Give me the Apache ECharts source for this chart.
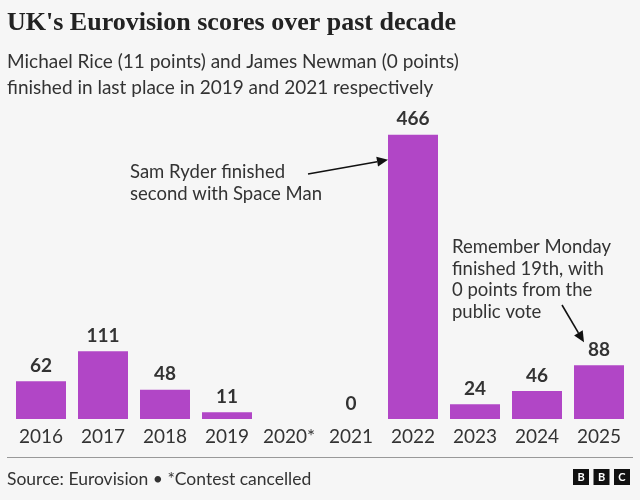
<!DOCTYPE html>
<html><head><meta charset="utf-8">
<script src="https://cdn.jsdelivr.net/npm/echarts@6/dist/echarts.min.js"></script>
<style>html,body{margin:0;padding:0;background:#f6f6f6}#c{width:640px;height:500px}</style>
</head><body><div id="c"></div>
<script>
var categories = ['2016','2017','2018','2019','2020*','2021','2022','2023','2024','2025'];
var scores = [62, 111, 48, 11, null, 0, 466, 24, 46, 88];
var titleText = "UK's Eurovision scores over past decade";
var subtitleText = "Michael Rice (11 points) and James Newman (0 points)\nfinished in last place in 2019 and 2021 respectively";
var note1 = "Sam Ryder finished\nsecond with Space Man";
var note2 = "Remember Monday\nfinished 19th, with\n0 points from the\npublic vote";
var sourceText = "Source: Eurovision \u2022 *Contest cancelled";

var FONT = 'Lato, "Noto Sans", sans-serif';
var chart = echarts.init(document.getElementById('c'));
var option = {
  backgroundColor: '#f6f6f6',
  animation: false,
  title: [{
    text: titleText, left: 7, top: 10, padding: 0,
    textStyle: {fontFamily: '"Liberation Serif", serif', fontWeight: 'bold', fontSize: 26, color: '#222'}
  },{
    text: subtitleText, left: 7, top: 49, padding: 0,
    textStyle: {fontFamily: FONT, fontWeight: 'normal', fontSize: 19, lineHeight: 26, color: '#333'}
  },{
    text: sourceText, left: 7, top: 470, padding: 0,
    textStyle: {fontFamily: FONT, fontWeight: 'normal', fontSize: 17.5, lineHeight: 18, color: '#333'}
  }],
  grid: {left: 10, right: 10, top: 114, bottom: 81, containLabel: false},
  xAxis: {
    type: 'category', data: categories,
    axisLine: {show: false}, axisTick: {show: false},
    axisLabel: {fontFamily: FONT, fontSize: 19, color: '#333', margin: 8, interval: 0}
  },
  yAxis: {type: 'value', min: 0, max: 500, show: false, splitLine: {show: false}},
  series: [{
    type: 'bar', data: scores, barWidth: 50,
    itemStyle: {color: '#b146c6'},
    label: {show: true, position: 'top', distance: 6, fontFamily: FONT, fontWeight: 'bold', fontSize: 19, color: '#333'}
  }]
};
chart.setOption(option);

function px(cat, val){ return chart.convertToPixel({gridIndex:0}, [cat, val]); }
function arrow(x1,y1,x2,y2){
  var a = Math.atan2(y2-y1, x2-x1), L = 11, W = 5;
  var bx = x2 - L*Math.cos(a), by = y2 - L*Math.sin(a);
  return [
    {type:'line', shape:{x1:x1,y1:y1,x2:bx,y2:by}, style:{stroke:'#111', lineWidth:1.6}},
    {type:'polygon', shape:{points:[[x2,y2],[bx+W*Math.sin(a), by-W*Math.cos(a)],[bx-W*Math.sin(a), by+W*Math.cos(a)]]}, style:{fill:'#111'}}
  ];
}
var p22 = px('2022', 425);
var p25 = px('2025', 88);
var g = [];
g.push({type:'text', left:130, top:161, style:{text:note1, font:'18.5px '+FONT, lineHeight:22, fill:'#333'}});
g.push({type:'text', left:452, top:236, style:{text:note2, font:'18.5px '+FONT, lineHeight:21.7, fill:'#333'}});
g = g.concat(arrow(308, 174, p22[0]-25, p22[1]));
g = g.concat(arrow(562, 305, p25[0]-15, p25[1]-23));
g.push({type:'line', shape:{x1:7,y1:457.5,x2:633,y2:457.5}, style:{stroke:'#999', lineWidth:1}});
var bx0 = 573;
['B','B','C'].forEach(function(ch,i){
  g.push({type:'rect', shape:{x:bx0+i*20.5, y:469, width:16, height:16}, style:{fill:'#111'}});
  g.push({type:'text', x:bx0+i*20.5+8, y:477, style:{text:ch, font:'bold 11px '+FONT, fill:'#fff', align:'center', verticalAlign:'middle'}});
});
chart.setOption({graphic: g});
</script></body></html>
